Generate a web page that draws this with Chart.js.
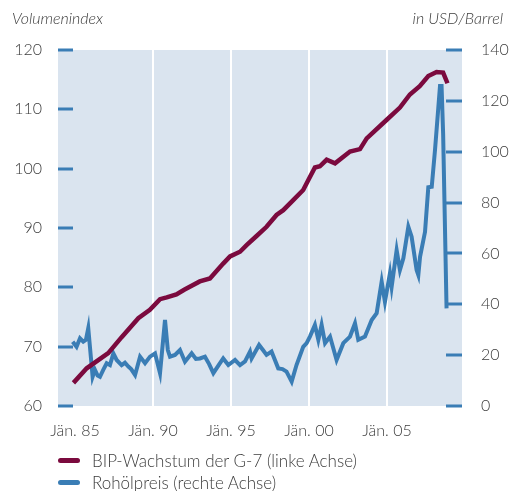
<!DOCTYPE html>
<html>
<head>
<meta charset="utf-8">
<script src="https://cdn.jsdelivr.net/npm/chart.js@4"></script>
<style>
  html,body{margin:0;padding:0;background:#fff;}
  #wrap{position:relative;width:509px;height:491px;font-family:Lato,"Open Sans",sans-serif;font-weight:300;color:#3c3c3c;}
  #chart{position:absolute;left:0;top:0;}
  .axTitle{position:absolute;top:8px;font-style:italic;font-size:16px;}
  .leg{position:absolute;left:58px;font-size:17px;display:flex;align-items:center;}
  .leg i{display:inline-block;width:22px;height:5px;border-radius:3px;margin-right:12px;}
</style>
</head>
<body>
<div id="wrap">
  <canvas id="chart" width="509" height="491"></canvas>
  <div class="axTitle" style="left:12px">Volumenindex</div>
  <div class="axTitle" style="right:6px">in USD/Barrel</div>
  <div class="leg" style="top:450px"><i style="background:#7b0a3e"></i>BIP-Wachstum der G-7 (linke Achse)</div>
  <div class="leg" style="top:472px"><i style="background:#3a7db5"></i>Rohölpreis (rechte Achse)</div>
</div>
<script>
/* ===== Data ===== */
const gdpYears = [1984.9,1985.75,1987.13,1987.99,1989.06,1989.8,1990.45,1990.88,1991.5,1992.0,1993.0,1993.65,1994.5,1994.94,1995.58,1996.0,1996.64,1997.28,1997.92,1998.35,1998.99,1999.63,1999.96,2000.38,2000.7,2001.13,2001.67,2002.63,2003.27,2003.7,2004.97,2005.83,2006.47,2007.1,2007.65,2008.18,2008.6,2008.88];
const gdpValues = [63.9,66.35,68.9,71.6,74.8,76.2,78.0,78.3,78.8,79.6,81.0,81.5,84.0,85.2,86.0,87.1,88.65,90.2,92.2,93.0,94.7,96.4,98.1,100.2,100.4,101.5,100.9,102.9,103.3,105.1,108.2,110.3,112.5,113.9,115.6,116.3,116.2,114.4];

const oilYears = [1984.85,1985.1,1985.32,1985.53,1985.7,1985.85,1986.13,1986.28,1986.45,1986.6,1986.81,1987.03,1987.24,1987.46,1987.67,1987.99,1988.2,1988.42,1988.6,1988.85,1989.17,1989.49,1989.81,1990.13,1990.45,1990.77,1990.95,1991.09,1991.41,1991.73,1992.05,1992.48,1992.75,1993.01,1993.33,1993.6,1993.87,1994.2,1994.5,1994.83,1995.26,1995.58,1995.9,1996.22,1996.32,1996.8,1997.05,1997.28,1997.6,1998.03,1998.3,1998.56,1998.89,1999.2,1999.63,1999.85,2000.06,2000.38,2000.6,2000.81,2001.03,2001.35,2001.77,2002.2,2002.63,2002.95,2003.16,2003.59,2004.02,2004.34,2004.66,2004.87,2005.19,2005.3,2005.62,2005.83,2006.05,2006.37,2006.58,2006.9,2007.01,2007.12,2007.44,2007.65,2007.87,2008.08,2008.4,2008.5,2008.6,2008.82];
const oilValues = [25.3,23.3,26.6,25.3,26,30.6,11.5,14.2,12,11.5,14.2,16.8,16.1,20.7,18.1,16.1,17,15.5,14.5,12.2,19.4,16.8,19.4,20.7,12.9,33.8,22,19.4,20.1,22.0,17.4,20.7,18.5,18.7,19.4,16.5,12.9,16,18.7,16.1,18.1,16.1,17.5,21.4,18.7,24.0,22,20.1,21.4,14.8,14.5,13.5,9.6,16.1,23.3,24.7,27.3,31.9,26.0,31.9,24.7,27.3,18.1,24.7,27.3,32.5,26.0,27.3,33.8,36.5,48.9,41.0,52.2,46.9,61.3,53.5,58.1,70.5,66.6,53.5,51.5,58.7,68.5,86,86.2,100.7,125.8,125.8,107.2,38.4];

const tickYears = [1985,1990,1995,2000,2005];
const tickLabels = ["Jän. 85","Jän. 90","Jän. 95","Jän. 00","Jän. 05"];

const RED = "#7b0a3e";
const BLUE = "#3a7db5";
const BG = "#dae4ef";
const TXT = "#3c3c3c";

/* ===== Plugin: background + inner tick dashes ===== */
const decor = {
  id:"decor",
  beforeDraw(c){
    const a = c.chartArea, ctx = c.ctx;
    ctx.save();
    ctx.fillStyle = BG;
    ctx.fillRect(a.left, a.top, a.right-a.left, a.bottom-a.top);
    ctx.restore();
  },
  afterDraw(c){
    const a = c.chartArea, ctx = c.ctx;
    ctx.save();
    ctx.strokeStyle = BLUE;
    ctx.lineWidth = 3;
    c.scales.yL.ticks.forEach(t=>{
      const y = Math.round(c.scales.yL.getPixelForValue(t.value));
      ctx.beginPath(); ctx.moveTo(a.left, y); ctx.lineTo(a.left+15, y); ctx.stroke();
    });
    c.scales.yR.ticks.forEach(t=>{
      const y = Math.round(c.scales.yR.getPixelForValue(t.value));
      ctx.beginPath(); ctx.moveTo(a.right-16, y); ctx.lineTo(a.right, y); ctx.stroke();
    });
    ctx.restore();
  }
};

const font = {family:"Lato, 'Open Sans', sans-serif", size:16, weight:"300"};

new Chart(document.getElementById("chart"),{
  type:"line",
  data:{
    datasets:[
      {
        label:"BIP-Wachstum der G-7 (linke Achse)",
        data:gdpYears.map((x,i)=>({x, y:gdpValues[i]})),
        borderColor:RED, borderWidth:4.5, pointRadius:0, tension:0,
        yAxisID:"yL"
      },
      {
        label:"Rohölpreis (rechte Achse)",
        data:oilYears.map((x,i)=>({x, y:oilValues[i]})),
        borderColor:BLUE, borderWidth:4, pointRadius:0, tension:0,
        yAxisID:"yR"
      }
    ]
  },
  options:{
    responsive:false, animation:false,
    layout:{padding:{top:50, bottom:45, left:0, right:0}},
    plugins:{legend:{display:false}, tooltip:{enabled:false}},
    scales:{
      x:{
        type:"linear", min:1983.91, max:2009.81,
        afterBuildTicks:s=>{ s.ticks = tickYears.map(v=>({value:v})); },
        afterFit:s=>{ s.height = 40; },
        ticks:{
          callback:(v)=>tickLabels[tickYears.indexOf(v)],
          color:TXT, font, padding:15, maxRotation:0, autoSkip:false
        },
        grid:{
          color:ctx=>ctx.tick && ctx.tick.value===1985 ? "rgba(0,0,0,0)" : "#ffffff",
          lineWidth:2, drawTicks:false
        },
        border:{display:false}
      },
      yL:{
        position:"left", min:60, max:120,
        afterFit:s=>{ s.width = 58; },
        ticks:{stepSize:10, color:TXT, font, padding:16},
        grid:{display:false, drawTicks:false},
        border:{display:false}
      },
      yR:{
        position:"right", min:0, max:140,
        afterFit:s=>{ s.width = 47; },
        ticks:{stepSize:20, color:TXT, font, padding:19},
        grid:{display:false, drawTicks:false},
        border:{display:false}
      }
    }
  },
  plugins:[decor]
});
</script>
</body>
</html>
